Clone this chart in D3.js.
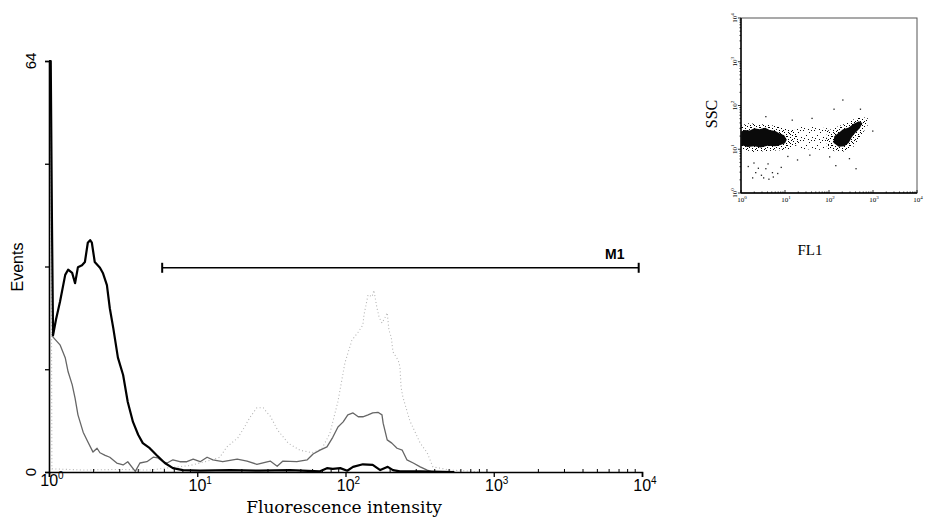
<!DOCTYPE html>
<html>
<head>
<meta charset="utf-8">
<script src="https://cdn.jsdelivr.net/npm/d3@7"></script>
<style>
  body { margin: 0; background: #fff; }
  svg { display: block; }
</style>
</head>
<body>
<svg id="chart" width="929" height="523"></svg>
<script>
// ---- Histogram data: 1024 channels spread over 4 log decades ----
const blackCh = [0, 3, 5, 7, 12, 19, 28, 33, 40, 45, 50, 57, 62, 67, 71, 74, 79, 88, 93, 100, 105, 111, 119, 128, 136, 145, 154, 162, 174, 186, 200, 214, 231, 261, 313, 364, 416, 468, 480, 490, 503, 515, 525, 542, 559, 572, 585, 594, 606, 641, 700];
const blackEvents = [64, 64, 40, 21.3, 23.7, 26.5, 30.7, 31.5, 31, 29.4, 31.9, 32.2, 32.7, 35.7, 36.1, 35.7, 32.7, 31.8, 31, 29.1, 25.5, 22.4, 17.8, 15.1, 10.9, 7.8, 5.8, 4.5, 3.7, 2.6, 1.4, 0.6, 0.3, 0.2, 0.3, 0.2, 0.3, 0.1, 0.6, 0.5, 0.6, 0.2, 0.8, 1.2, 1.1, 0.3, 0.8, 0.3, 0.1, 0.1, 0];

const greyCh = [5, 7, 19, 28, 33, 40, 45, 50, 59, 67, 76, 83, 88, 97, 105, 117, 128, 136, 149, 157, 169, 180, 188, 197, 204, 214, 226, 238, 249, 261, 273, 283, 300, 325, 342, 359, 382, 394, 404, 428, 446, 456, 468, 480, 490, 499, 508, 516, 525, 534, 542, 551, 559, 568, 575, 577, 584, 592, 601, 610, 618, 629, 641, 653, 663];
const greyEvents = [21.5, 21, 19.8, 17.8, 15.6, 13.6, 11.5, 8.9, 6.2, 4.7, 3.1, 3.7, 3.0, 2.6, 2.3, 1.4, 1.1, 1.6, 0.1, 1.4, 1.6, 2.3, 2.2, 1.6, 1.4, 1.9, 1.6, 1.6, 2.0, 1.6, 2.3, 1.9, 1.6, 2.0, 1.7, 1.2, 1.7, 0.9, 1.7, 1.6, 1.9, 2.8, 3.4, 3.9, 5.4, 7.0, 7.8, 8.9, 9.2, 8.6, 8.6, 8.9, 9.2, 9.3, 8.9, 7.6, 5.0, 4.5, 3.7, 3.4, 1.9, 1.4, 0.8, 0.3, 0];

const lightCh = [0, 3, 5, 60, 120, 174, 192, 243, 278, 295, 307, 326, 337, 347, 359, 370, 376, 382, 395, 413, 433, 454, 471, 485, 499, 511, 523, 534, 542, 544, 551, 558, 561, 566, 570, 575, 580, 584, 587, 591, 594, 603, 606, 608, 611, 623, 641, 653, 663, 675, 692, 715, 744];
const lightEvents = [64, 64, 0.5, 0.3, 0.4, 0.3, 0.5, 1.0, 1.8, 2.3, 3.9, 5.3, 6.9, 8.5, 10.0, 10.0, 9.3, 8.7, 6.5, 4.5, 3.4, 3.0, 3.6, 6.0, 11.0, 17.0, 20.5, 21.8, 22.9, 24.5, 27.6, 27.3, 28.3, 25.7, 24.1, 23.2, 24.0, 24.8, 22.1, 21.0, 18.7, 17.4, 16.4, 13.2, 11.7, 8.0, 4.5, 3.0, 0.8, 0.6, 0.3, 0.2, 0];

// Axis ticks
const xMajorTicks = [1, 10, 100, 1000, 10000];
const xTickExponents = ["0", "1", "2", "3", "4"];
const yTicks = [0, 16, 32, 48, 64];
const yTickLabels = ["0", "", "", "", "64"];

// M1 marker gate (fluorescence range, drawn at this event level)
const markerRange = [5.8, 9500];
const markerLevel = 31.8;
const markerName = "M1";

// ---- Dot plot data (FL1 vs SSC), in log decades ----
const denseLeft = [[0.0,1.1],[0.0,1.4],[0.08,1.44],[0.2,1.43],[0.3,1.48],[0.42,1.46],[0.55,1.49],[0.65,1.44],[0.78,1.42],[0.88,1.36],[0.98,1.32],[1.04,1.22],[1.0,1.14],[0.9,1.1],[0.78,1.07],[0.6,1.08],[0.45,1.04],[0.3,1.07],[0.15,1.05]];
const haloLeft = [[0.0,1.0],[0.0,1.55],[0.2,1.6],[0.4,1.56],[0.6,1.58],[0.8,1.52],[1.0,1.48],[1.2,1.45],[1.3,1.35],[1.3,1.12],[1.15,1.02],[0.9,0.98],[0.6,0.96],[0.3,0.94]];
const bridge = [[1.25,1.02],[1.25,1.5],[1.5,1.52],[1.75,1.5],[2.0,1.48],[2.0,1.05],[1.75,0.98],[1.5,1.0]];
const denseRight = [[2.1,1.15],[2.12,1.3],[2.25,1.4],[2.32,1.46],[2.45,1.5],[2.55,1.58],[2.68,1.64],[2.76,1.6],[2.7,1.48],[2.6,1.38],[2.52,1.28],[2.45,1.15],[2.35,1.07],[2.22,1.06]];
const haloRight = [[1.95,1.02],[1.95,1.42],[2.2,1.52],[2.45,1.62],[2.65,1.74],[2.88,1.72],[2.88,1.55],[2.72,1.3],[2.55,1.05],[2.35,0.95],[2.15,0.95]];
const scatterPoints = [[0.32,0.48],[0.55,0.57],[0.6,0.68],[0.7,0.48],[0.5,0.36],[0.38,0.58],[0.45,0.42],[0.62,0.33],[0.25,0.36],[0.72,0.38],[0.82,0.46],[0.15,0.62],[0.9,0.6],[0.28,0.7],[1.27,0.77],[2.14,0.64],[2.6,0.57],[2.3,2.14],[2.7,1.93],[2.1,1.93],[2.98,1.43],[1.6,1.72],[1.15,1.68],[0.55,1.76],[2.0,0.84],[1.55,0.88],[2.45,0.8],[1.05,0.85]];
const insetTicks = [1, 10, 100, 1000, 10000];
const insetExponents = ["0", "1", "2", "3", "4"];

const svg = d3.select("#chart");
svg.append("rect").attr("width", 929).attr("height", 523).attr("fill", "#fff");

// Dot textures for the populated regions of the dot plot
const defs = svg.append("defs");
const pDense = defs.append("pattern").attr("id", "speckle")
  .attr("width", 9).attr("height", 9).attr("patternUnits", "userSpaceOnUse");
[[0,0],[4,1],[7,2],[2,3],[5,4],[8,5],[1,6],[6,7],[3,8],[0,4],[7,8],[3,1],[5,6]]
  .forEach(p => pDense.append("rect").attr("x", p[0]).attr("y", p[1]).attr("width", 1).attr("height", 1).attr("fill", "#000"));
const pSparse = defs.append("pattern").attr("id", "sparse")
  .attr("width", 11).attr("height", 10).attr("patternUnits", "userSpaceOnUse");
[[0,0],[6,2],[3,5],[9,7],[1,8],[8,0],[5,9]]
  .forEach(p => pSparse.append("rect").attr("x", p[0]).attr("y", p[1]).attr("width", 1).attr("height", 1).attr("fill", "#111"));

// ---- Histogram ----
const x = d3.scaleLog().domain([1, 10000]).range([49, 642]);
const y = d3.scaleLinear().domain([0, 64]).range([472, 61]).clamp(true);
const chToI = c => Math.pow(10, c / 256);
const line = d3.line().x(d => x(chToI(d[0]))).y(d => y(d[1]));

const toPts = (ch, ev) => ch.map((c, i) => [c, ev[i]]);

const g = svg.append("g");

g.append("path").datum(toPts(lightCh, lightEvents))
  .attr("d", line).attr("fill", "none")
  .attr("stroke", "#b4b4b4").attr("stroke-width", 1.1)
  .attr("stroke-dasharray", "1,2.5");

g.append("path").datum(toPts(greyCh, greyEvents))
  .attr("d", line).attr("fill", "none")
  .attr("stroke", "#666").attr("stroke-width", 1.3)
  .attr("stroke-linejoin", "round");

g.append("path").datum(toPts(blackCh, blackEvents))
  .attr("d", line).attr("fill", "none")
  .attr("stroke", "#000").attr("stroke-width", 2.2)
  .attr("stroke-linejoin", "round");

// X axis
const xAxis = g.append("g").attr("transform", `translate(0,${y(0)})`)
  .call(d3.axisBottom(x).tickValues(xMajorTicks).tickSize(5).tickFormat(""));
xAxis.select(".domain").attr("stroke", "#000").attr("stroke-width", 1.6);
xAxis.selectAll(".tick line").attr("stroke", "#000").attr("stroke-width", 1.3);

// minor ticks pointing up
const minor = [];
for (let k = 0; k < 4; k++) for (let m = 2; m <= 9; m++) minor.push(m * Math.pow(10, k));
g.append("g").selectAll("line").data(minor).join("line")
  .attr("x1", d => x(d)).attr("x2", d => x(d))
  .attr("y1", y(0)).attr("y2", y(0) - 3)
  .attr("stroke", "#000").attr("stroke-width", 1);

const xl = g.append("g").selectAll("text").data(xMajorTicks).join("text")
  .attr("x", d => x(d) + 3)
  .attr("y", (d, i) => i === 0 ? 486 : 491)
  .attr("text-anchor", "middle")
  .attr("font-family", "Liberation Sans, Arial, sans-serif")
  .attr("font-size", 16);
xl.append("tspan").text("10");
xl.append("tspan").attr("dy", -7).attr("font-size", 10).text((d, i) => xTickExponents[i]);

g.append("text").attr("x", 344).attr("y", 513)
  .attr("text-anchor", "middle")
  .attr("font-family", "DejaVu Serif, serif")
  .attr("font-size", 17)
  .text("Fluorescence intensity");

// Y axis
const yAxis = g.append("g").attr("transform", `translate(${x(1)},0)`)
  .call(d3.axisLeft(y).tickValues(yTicks).tickSize(4).tickFormat(""));
yAxis.select(".domain").attr("stroke", "#000").attr("stroke-width", 1.6);
yAxis.selectAll(".tick line").attr("stroke", "#000").attr("stroke-width", 1.3);

g.append("g").selectAll("text").data(yTicks.filter((d, i) => yTickLabels[i] !== "")).join("text")
  .attr("transform", d => `translate(36,${y(d)}) rotate(-90)`)
  .attr("text-anchor", "middle")
  .attr("font-family", "Liberation Sans, Arial, sans-serif")
  .attr("font-size", 15)
  .text(d => yTickLabels[yTicks.indexOf(d)]);

g.append("text")
  .attr("transform", `translate(23,267) rotate(-90)`)
  .attr("text-anchor", "middle")
  .attr("font-family", "Liberation Sans, Arial, sans-serif")
  .attr("font-size", 16)
  .text("Events");

// M1 marker
const my = y(markerLevel);
const mg = g.append("g").attr("stroke", "#000").attr("stroke-width", 1.6);
mg.append("line").attr("x1", x(markerRange[0])).attr("x2", x(markerRange[1])).attr("y1", my).attr("y2", my);
markerRange.forEach(v => mg.append("line").attr("x1", x(v)).attr("x2", x(v)).attr("y1", my - 5).attr("y2", my + 5).attr("stroke-width", 2));
g.append("text").attr("x", x(markerRange[1]) - 24).attr("y", my - 9)
  .attr("text-anchor", "middle")
  .attr("font-family", "Liberation Sans, Arial, sans-serif")
  .attr("font-size", 14).attr("font-weight", "bold")
  .text(markerName);

// ---- Inset dot plot ----
const xi = d3.scaleLog().domain([1, 10000]).range([741, 917]);
const yi = d3.scaleLog().domain([1, 10000]).range([193, 18]);
const dec = v => Math.pow(10, v);
const area = d3.line().x(d => xi(dec(d[0]))).y(d => yi(dec(d[1]))).curve(d3.curveLinearClosed);

const ig = svg.append("g");
ig.append("path").datum(bridge).attr("d", area).attr("fill", "url(#sparse)");
ig.append("path").datum(haloLeft).attr("d", area).attr("fill", "url(#speckle)");
ig.append("path").datum(haloRight).attr("d", area).attr("fill", "url(#speckle)");
ig.append("path").datum(denseLeft).attr("d", area).attr("fill", "#0a0a0a");
ig.append("path").datum(denseRight).attr("d", area).attr("fill", "#0a0a0a");
ig.append("g").selectAll("rect").data(scatterPoints).join("rect")
  .attr("x", d => xi(dec(d[0]))).attr("y", d => yi(dec(d[1])))
  .attr("width", 1.3).attr("height", 1.3).attr("fill", "#222");

// frame
ig.append("rect").attr("x", xi(1)).attr("y", yi(10000))
  .attr("width", xi(10000) - xi(1)).attr("height", yi(1) - yi(10000))
  .attr("fill", "none").attr("stroke", "#555").attr("stroke-width", 1);
ig.append("line").attr("x1", xi(1)).attr("x2", xi(10000)).attr("y1", yi(1)).attr("y2", yi(1))
  .attr("stroke", "#000").attr("stroke-width", 1.4);
ig.append("line").attr("x1", xi(1)).attr("x2", xi(1)).attr("y1", yi(1)).attr("y2", yi(10000))
  .attr("stroke", "#000").attr("stroke-width", 1.4);

// inset minor ticks
ig.append("g").selectAll("line").data(minor.concat(insetTicks)).join("line")
  .attr("x1", d => xi(d)).attr("x2", d => xi(d))
  .attr("y1", yi(1)).attr("y2", d => yi(1) - (insetTicks.includes(d) ? 3 : 1.5))
  .attr("stroke", "#000").attr("stroke-width", 0.8);
ig.append("g").selectAll("line").data(minor.concat(insetTicks)).join("line")
  .attr("y1", d => yi(d)).attr("y2", d => yi(d))
  .attr("x1", xi(1)).attr("x2", d => xi(1) - (insetTicks.includes(d) ? 3 : 1.5))
  .attr("stroke", "#000").attr("stroke-width", 0.8);

const ixl = ig.append("g").selectAll("text").data(insetTicks).join("text")
  .attr("x", d => xi(d) + 1).attr("y", 202)
  .attr("text-anchor", "middle")
  .attr("font-family", "Liberation Serif, serif")
  .attr("font-size", 7);
ixl.append("tspan").text("10");
ixl.append("tspan").attr("dy", -3).attr("font-size", 5).text((d, i) => insetExponents[i]);

const iyl = ig.append("g").selectAll("text").data(insetTicks).join("text")
  .attr("transform", d => `translate(737,${yi(d)}) rotate(-90)`)
  .attr("text-anchor", "middle")
  .attr("font-family", "Liberation Serif, serif")
  .attr("font-size", 7);
iyl.append("tspan").text("10");
iyl.append("tspan").attr("dy", -3).attr("font-size", 5).text((d, i) => insetExponents[i]);

ig.append("text")
  .attr("transform", `translate(717,114) rotate(-90)`)
  .attr("text-anchor", "middle")
  .attr("font-family", "Liberation Serif, serif")
  .attr("font-size", 16)
  .text("SSC");
ig.append("text").attr("x", 810).attr("y", 255)
  .attr("text-anchor", "middle")
  .attr("font-family", "Liberation Serif, serif")
  .attr("font-size", 15)
  .text("FL1");
</script>
</body>
</html>
